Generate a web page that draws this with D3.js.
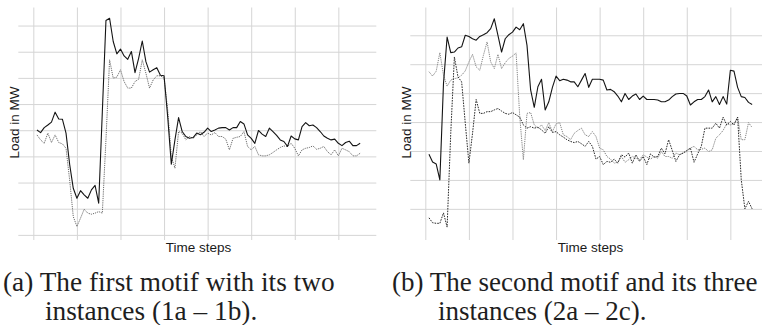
<!DOCTYPE html>
<html>
<head>
<meta charset="utf-8">
<script src="https://cdn.jsdelivr.net/npm/d3@7"></script>
<style>
  body { margin: 0; background: #fff; }
  svg { display: block; }
</style>
</head>
<body>
<svg id="chart" width="762" height="325"></svg>
<script>
// time axis, shared by both motifs
const timeSteps = d3.range(1, 91);
const xTickValues = [0, 12, 24, 36, 48, 60, 72, 84];
const yTicksA = [0, 1, 2, 3, 4, 5, 6, 7, 8];
const yTicksB = [0, 1, 2, 3, 4, 5, 6];

// (a) first motif, instances 1a / 1b
const motif1a = [
  4.01, 3.91, 4.10, 4.20, 4.31, 4.69, 4.43, 4.42, 3.89, 2.70,
  1.78, 1.40, 1.69, 1.53, 1.40, 1.72, 1.89, 1.21, 4.70, 8.19,
  8.28, 7.39, 6.92, 7.10, 6.84, 6.71, 7.01, 6.20, 6.75, 7.41,
  6.62, 6.22, 6.31, 6.39, 6.10, 6.08, 4.52, 2.70, 3.63, 4.48,
  3.95, 3.76, 3.69, 3.72, 3.89, 3.83, 3.92, 4.08, 3.95, 4.01,
  4.08, 4.10, 4.10, 4.01, 4.10, 4.10, 4.33, 4.24, 3.82, 3.69,
  3.50, 3.99, 3.85, 3.76, 4.08, 3.95, 3.80, 3.63, 3.57, 3.38,
  3.78, 3.67, 3.63, 4.14, 4.29, 4.17, 4.20, 4.10, 3.95, 3.78,
  3.69, 3.63, 3.66, 3.50, 3.41, 3.53, 3.58, 3.41, 3.41, 3.50
];
const motif1b = [
  3.82, 3.63, 3.50, 3.89, 3.53, 3.82, 3.53, 3.48, 3.31, 2.10,
  0.70, 0.32, 0.64, 0.98, 0.83, 0.79, 0.83, 0.89, 0.83, 3.63,
  6.69, 5.99, 6.03, 6.31, 5.86, 5.61, 5.61, 5.86, 5.95, 6.69,
  6.18, 5.61, 5.92, 6.08, 6.08, 5.99, 4.78, 2.99, 2.55, 3.95,
  3.89, 3.63, 3.76, 3.69, 3.82, 3.95, 3.76, 3.89, 3.82, 3.91,
  3.76, 3.76, 3.66, 3.25, 3.69, 3.73, 3.76, 3.95, 3.38, 3.25,
  3.38, 3.06, 3.02, 3.02, 3.06, 3.15, 3.25, 3.34, 3.40, 3.38,
  3.50, 3.31, 3.02, 3.25, 3.31, 3.34, 3.40, 3.27, 3.31, 3.38,
  3.18, 3.06, 3.25, 3.02, 3.31, 3.25, 3.18, 3.02, 3.02, 3.12
];

// (b) second motif, instances 2a / 2b / 2c
const motif2a = [
  1.89, 1.62, 1.55, 1.00, 4.33, 5.94, 5.40, 5.42, 5.56, 5.60,
  6.00, 5.96, 5.88, 5.83, 5.96, 6.02, 6.09, 6.23, 6.57, 6.00,
  5.42, 5.88, 6.02, 6.11, 6.28, 6.19, 6.40, 5.65, 4.11, 3.51,
  4.22, 4.48, 3.42, 3.70, 4.20, 4.59, 4.43, 4.48, 4.45, 4.39,
  4.39, 4.22, 4.45, 4.68, 4.20, 4.48, 4.48, 4.48, 4.45, 4.11,
  4.13, 4.05, 3.90, 3.70, 3.99, 3.78, 3.90, 3.97, 3.78, 3.90,
  3.78, 3.78, 3.78, 3.76, 3.70, 3.70, 3.76, 3.88, 3.97, 3.99,
  3.99, 3.90, 3.59, 3.70, 3.78, 3.78, 3.88, 4.11, 3.70, 3.88,
  3.61, 3.88, 3.62, 4.79, 4.76, 4.20, 3.88, 3.85, 3.68, 3.61
];
const motif2b = [
  4.74, 4.59, 4.76, 5.40, 4.62, 4.24, 4.45, 4.50, 4.53, 4.62,
  4.77, 5.08, 5.34, 4.91, 4.79, 5.31, 5.77, 5.08, 4.85, 5.34,
  4.85, 5.05, 5.20, 5.28, 5.39, 3.19, 1.70, 3.30, 3.33, 2.90,
  2.79, 2.90, 2.71, 2.98, 2.67, 2.94, 2.98, 2.56, 2.50, 2.39,
  2.61, 2.71, 2.79, 2.56, 2.50, 2.67, 2.50, 2.10, 2.04, 1.81,
  1.72, 1.58, 1.61, 1.81, 1.61, 1.70, 1.81, 1.75, 1.70, 1.87,
  1.79, 1.72, 1.81, 1.75, 1.98, 1.81, 1.81, 1.75, 1.93, 1.87,
  1.93, 1.98, 2.10, 2.16, 2.04, 2.06, 2.10, 1.98, 2.04, 2.44,
  2.56, 2.71, 2.94, 2.90, 2.94, 3.17, 2.39, 2.39, 2.98, 2.81
];
const motif2c = [
  -0.31, -0.48, -0.50, -0.50, -0.14, -0.63, 2.61, 5.25, 4.56, 4.39,
  2.96, 1.58, 2.61, 3.78, 3.30, 3.30, 3.36, 3.36, 3.42, 3.47,
  3.38, 3.30, 3.27, 3.33, 3.25, 3.17, 2.90, 2.79, 2.84, 2.79,
  2.82, 2.73, 2.61, 2.84, 2.64, 2.67, 2.56, 2.48, 2.39, 2.33,
  2.29, 2.33, 2.25, 2.16, 2.33, 2.16, 1.72, 1.81, 1.53, 1.64,
  1.61, 1.72, 1.58, 1.87, 1.79, 1.93, 1.58, 1.87, 1.64, 1.81,
  1.53, 1.90, 1.79, 1.81, 2.10, 1.90, 2.39, 2.02, 1.64, 1.87,
  1.93, 2.02, 2.10, 1.61, 1.90, 2.16, 2.79, 2.79, 2.79, 2.96,
  2.79, 3.17, 2.90, 3.02, 2.90, 3.17, 1.01, 0.00, 0.26, 0.00
];

const svg = d3.select('#chart');
const gridColor = '#d5d5d5';
const tickLen = 2.5;

const drawPanel = (panel) => {
  const x = d3.scaleLinear().domain([-3.45, 94.45]).range([panel.left, panel.left + 355.5]);
  const y = d3.scaleLinear().domain(panel.yDomain).range([237.5, 7.5]);
  const top = y.range()[1];
  const bottom = y.range()[0];
  const g = svg.append('g').attr('class', 'panel');

  // vertical grid + ticks below panel
  const xAxis = d3.axisBottom(x)
    .tickValues(xTickValues)
    .tickSize(-(bottom - top + tickLen))
    .tickSizeOuter(0)
    .tickFormat('');
  g.append('g')
    .attr('transform', `translate(0,${bottom + tickLen})`)
    .call(xAxis)
    .call(a => a.select('.domain').remove())
    .call(a => a.selectAll('line').attr('stroke', gridColor).attr('stroke-width', 1));

  // horizontal grid + ticks left of panel
  const yAxis = d3.axisLeft(y)
    .tickValues(panel.yTicks)
    .tickSize(-(x.range()[1] - x.range()[0] + tickLen))
    .tickSizeOuter(0)
    .tickFormat('');
  g.append('g')
    .attr('transform', `translate(${x.range()[0] - tickLen},0)`)
    .call(yAxis)
    .call(a => a.select('.domain').remove())
    .call(a => a.selectAll('line').attr('stroke', gridColor).attr('stroke-width', 1));

  const line = d3.line()
    .x((d, i) => x(timeSteps[i]))
    .y(d => y(d));

  panel.series.forEach(s => {
    g.append('path')
      .datum(s.values)
      .attr('fill', 'none')
      .attr('stroke', s.color)
      .attr('stroke-width', s.width)
      .attr('stroke-dasharray', s.dash)
      .attr('stroke-linejoin', 'round')
      .attr('d', line);
  });

  g.append('text')
    .attr('x', (x.range()[0] + x.range()[1]) / 2)
    .attr('y', 251.5)
    .attr('text-anchor', 'middle')
    .attr('font-family', 'Liberation Sans, Arial, sans-serif')
    .attr('font-size', 13.5)
    .attr('fill', '#1a1a1a')
    .text('Time steps');

  g.append('text')
    .attr('transform', `translate(${panel.titleX},${(top + bottom) / 2}) rotate(-90)`)
    .attr('text-anchor', 'middle')
    .attr('font-family', 'Liberation Sans, Arial, sans-serif')
    .attr('font-size', 13.5)
    .attr('fill', '#1a1a1a')
    .text('Load in MW');

  const cap = g.append('g')
    .attr('font-family', 'Liberation Serif, Times New Roman, serif')
    .attr('font-size', panel.capSize)
    .attr('fill', '#1e1e1e');
  cap.append('text').attr('x', panel.capX).attr('y', 291).text(panel.caption[0]);
  cap.append('text').attr('x', panel.capX2).attr('y', 320).text(panel.caption[1]);
};

drawPanel({
  left: 20.8,
  yDomain: [-0.1, 8.69],
  yTicks: yTicksA,
  titleX: 18.5,
  capSize: 27.3,
  capX: 3,
  capX2: 45,
  caption: ['(a) The first motif with its two', 'instances (1a \u2013 1b).'],
  series: [
    { values: motif1b, color: '#6a6a6a', width: 1, dash: '1.2,1' },
    { values: motif1a, color: '#141414', width: 1.1, dash: null }
  ]
});

drawPanel({
  left: 412.8,
  yDomain: [-0.99, 6.96],
  yTicks: yTicksB,
  titleX: 410.5,
  capSize: 27,
  capX: 392,
  capX2: 438,
  caption: ['(b) The second motif and its three', 'instances (2a \u2013 2c).'],
  series: [
    { values: motif2b, color: '#808080', width: 1, dash: '1.2,1' },
    { values: motif2c, color: '#2a2a2a', width: 1, dash: '1.6,1.1' },
    { values: motif2a, color: '#141414', width: 1.1, dash: null }
  ]
});
</script>
</body>
</html>
